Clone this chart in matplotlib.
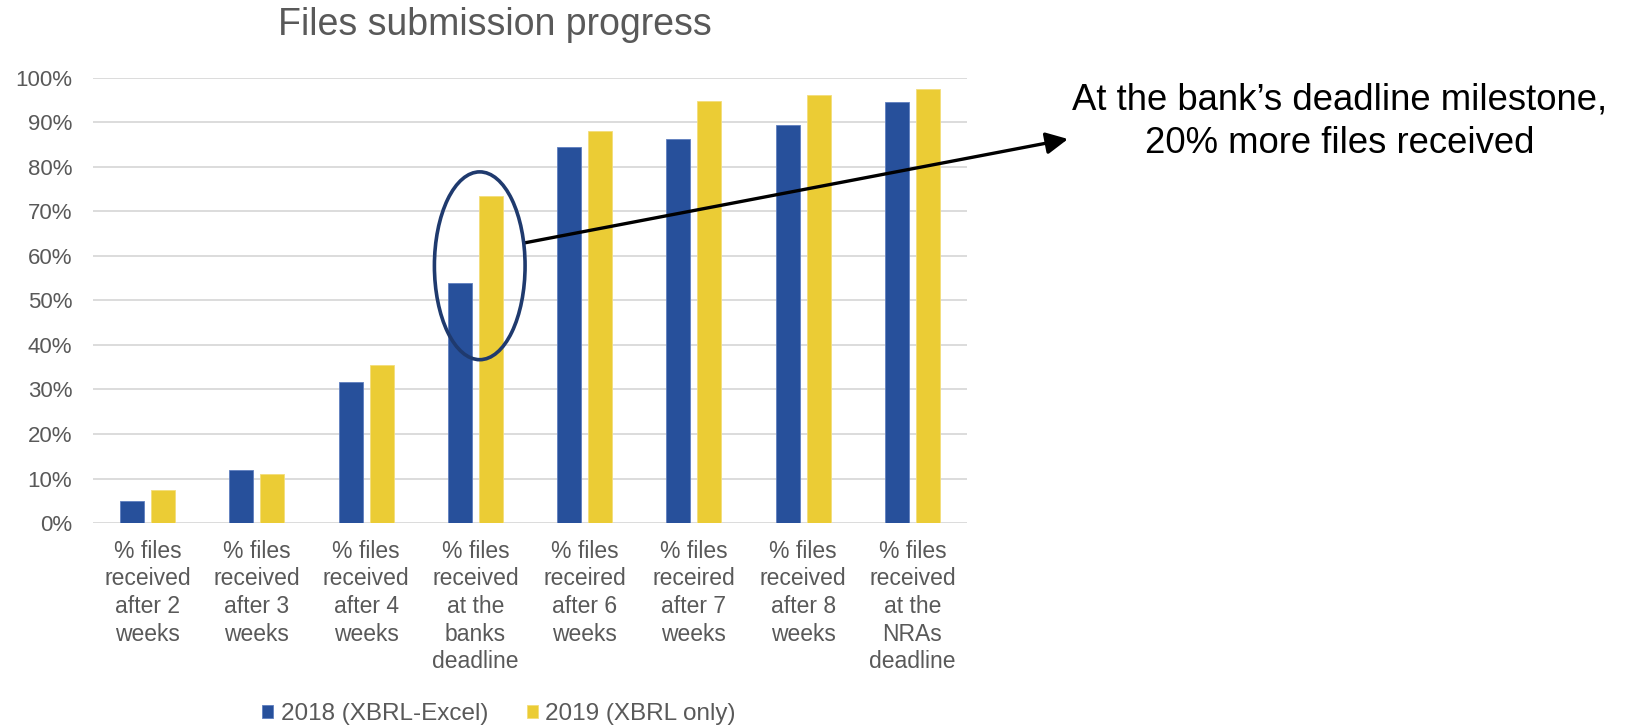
import numpy as np
import matplotlib.pyplot as plt
from matplotlib.patches import Ellipse

# podatki
kategorije = ['% files\nreceived\nafter 2\nweeks', '% files\nreceived\nafter 3\nweeks',
              '% files\nreceived\nafter 4\nweeks', '% files\nreceived\nat the\nbanks\ndeadline',
              '% files\nreceired\nafter 6\nweeks', '% files\nreceired\nafter 7\nweeks',
              '% files\nreceived\nafter 8\nweeks', '% files\nreceived\nat the\nNRAs\ndeadline']
leto_2018 = [0.05, 0.119, 0.317, 0.539, 0.845, 0.862, 0.894, 0.945]
leto_2019 = [0.075, 0.11, 0.354, 0.734, 0.881, 0.949, 0.961, 0.976]
oznake_y = ['0%', '10%', '20%', '30%', '40%', '50%', '60%', '70%', '80%', '90%', '100%']
serije = ['2018 (XBRL-Excel)', '2019 (XBRL only)']

modra = '#27509B'
rumena = '#EBCC35'
siva = '#595959'

plt.rcParams['font.family'] = ['Liberation Sans', 'DejaVu Sans']

fig = plt.figure(figsize=(16.32, 7.26), dpi=100)
ax = fig.add_axes([0.057, 0.2796, 0.5355, 0.613])

x = np.arange(len(kategorije))
w = 0.22
ax.bar(x - 0.142, leto_2018, w, color=modra, edgecolor='#5f7fbf', linewidth=0.6, label=serije[0], zorder=3)
ax.bar(x + 0.142, leto_2019, w, color=rumena, edgecolor='#f3dd7a', linewidth=0.6, label=serije[1], zorder=3)

ax.set_xlim(-0.5, len(kategorije) - 0.5)
ax.set_ylim(0, 1)
ax.set_yticks(np.linspace(0, 1, 11))
ax.set_yticklabels(oznake_y, fontsize=16, color=siva)
ax.set_xticks(x)
ax.set_xticklabels(kategorije, fontsize=16.5, color=siva, linespacing=1.26)
ax.tick_params(axis='both', length=0)
ax.tick_params(axis='y', pad=15)
ax.tick_params(axis='x', pad=12)
ax.grid(axis='y', color='#D9D9D9', linewidth=1.3, zorder=0)
for s in ax.spines.values():
    s.set_visible(False)

# elipsa okoli 4. skupine
ax.add_patch(Ellipse((3.04, 0.578), 0.83, 0.422, fill=False, edgecolor='#1F3A6E', linewidth=2.6, zorder=4))

# naslov
fig.text(0.3033, 0.965, 'Files submission progress', fontsize=27, color=siva, ha='center', va='center')

# puščica in komentar
ax.annotate('', xy=(1068, 726 - 139), xycoords='figure pixels',
            xytext=(524, 726 - 243), textcoords='figure pixels',
            arrowprops=dict(arrowstyle='-|>,head_length=0.6,head_width=0.3', color='black', lw=2.4,
                            mutation_scale=22, shrinkA=0, shrinkB=0))
fig.text(0.821, 0.8494, 'At the bank\u2019s deadline milestone,', fontsize=26.3, ha='center', va='baseline')
fig.text(0.821, 0.7893, '20% more files received', fontsize=26.3, ha='center', va='baseline')

leg = fig.legend(loc='center', bbox_to_anchor=(0.3058, 0.0165), ncol=2, frameon=False,
                 handlelength=0.45, handleheight=0.45, handletextpad=0.3, columnspacing=1.6,
                 borderpad=0, prop={'size': 17.5})
for t in leg.get_texts():
    t.set_color(siva)

fig.savefig('out.png', dpi=100)
